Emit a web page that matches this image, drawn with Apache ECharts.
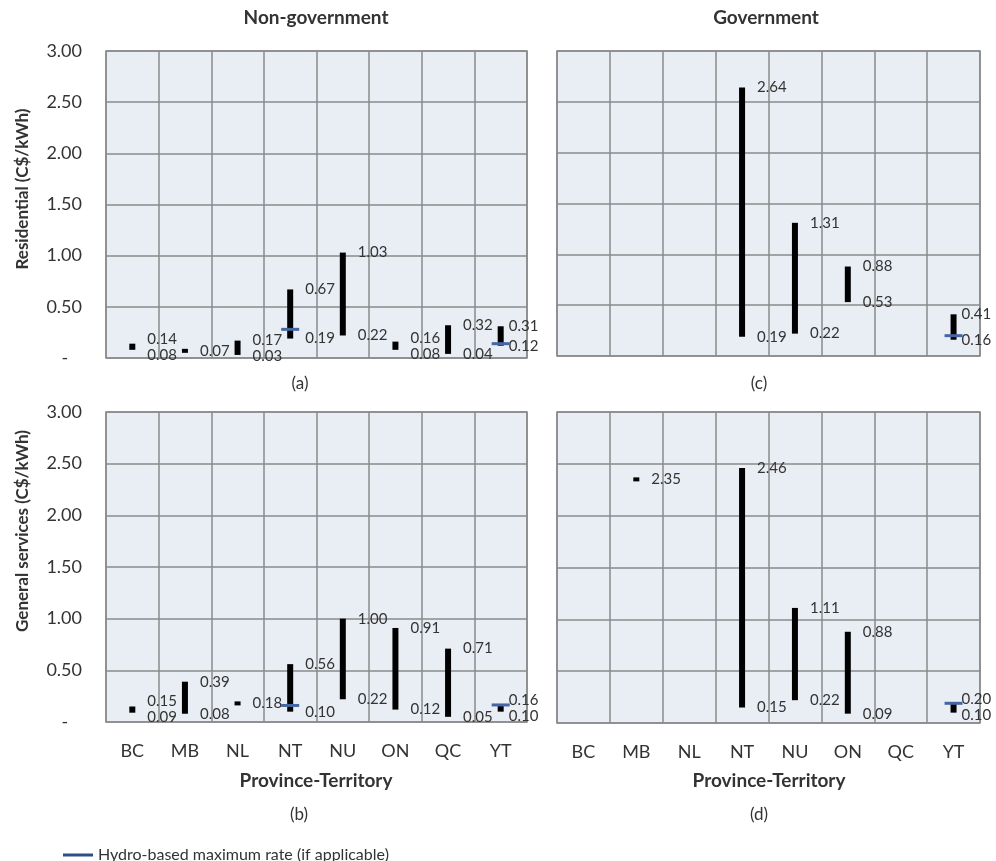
<!DOCTYPE html>
<html><head><meta charset="utf-8">
<script src="https://cdn.jsdelivr.net/npm/echarts@6/dist/echarts.min.js"></script>
<style>html,body{margin:0;padding:0;background:#fff}#c{width:996px;height:861px}</style>
</head><body><div id="c"></div>
<script>
const categories = ['BC','MB','NL','NT','NU','ON','QC','YT'];
const yTicks = [0, 0.5, 1, 1.5, 2, 2.5, 3];
// (a) Non-government, Residential
const aMin   = [0.08, 0.07, 0.03, 0.19, 0.22, 0.08, 0.04, 0.12];
const aMax   = [0.14, 0.07, 0.17, 0.67, 1.03, 0.16, 0.32, 0.31];
const aHydro = [null, null, null, 0.28, null, null, null, 0.14];
// (b) Non-government, General services
const bMin   = [0.09, 0.08, 0.18, 0.10, 0.22, 0.12, 0.05, 0.10];
const bMax   = [0.15, 0.39, 0.18, 0.56, 1.00, 0.91, 0.71, 0.16];
const bHydro = [null, null, null, 0.16, null, null, null, 0.165];
// (c) Government, Residential
const cMin   = [null, null, null, 0.19, 0.22, 0.53, null, 0.16];
const cMax   = [null, null, null, 2.64, 1.31, 0.88, null, 0.41];
const cHydro = [null, null, null, null, null, null, null, 0.20];
// (d) Government, General services
const dMin   = [null, 2.35, null, 0.15, 0.22, 0.09, null, 0.10];
const dMax   = [null, 2.35, null, 2.46, 1.11, 0.88, null, 0.20];
const dHydro = [null, null, null, null, null, null, null, 0.19];

const hydroName = 'Hydro-based maximum rate (if applicable)';
const FONT = 'Lato, "Open Sans", sans-serif';
const TXT = '#333';
const GRIDC = '#8a8a8a';

const grids = [
  {left:106, top:51,  width:421, height:307},
  {left:106, top:412, width:421, height:310},
  {left:557, top:51,  width:423, height:305},
  {left:557, top:412, width:423, height:311}
];
const panels = [
  {min:aMin, max:aMax, hydro:aHydro, xLab:false, yLab:true},
  {min:bMin, max:bMax, hydro:bHydro, xLab:true,  yLab:true},
  {min:cMin, max:cMax, hydro:cHydro, xLab:false, yLab:false},
  {min:dMin, max:dMax, hydro:dHydro, xLab:true,  yLab:false}
];

function rangeRender(params, api) {
  const i = api.value(0), lo = api.value(1), hi = api.value(2);
  const pLo = api.coord([i, lo]), pHi = api.coord([i, hi]);
  const x = pLo[0], w = 6;
  let top = pHi[1], bot = pLo[1];
  if (bot - top < 4) { const m = (top + bot) / 2; top = m - 2; bot = m + 2; }
  const dx = i === categories.length - 1 ? 8 : 15;
  const children = [{type:'rect', shape:{x:x - w/2, y:top, width:w, height:bot - top}, style:{fill:'#000'}}];
  const tStyle = (t, y) => ({type:'text', x:x + dx, y:y, style:{text:t, font:'15px ' + FONT, fill:TXT, align:'left', verticalAlign:'middle'}});
  if (lo === hi) {
    children.push(tStyle(hi.toFixed(2), pHi[1]));
  } else {
    let yHi = pHi[1], yLo = pLo[1];
    if (yLo - yHi < 16) { const m = (yHi + yLo) / 2; yHi = m - 8; yLo = m + 8; }
    children.push(tStyle(hi.toFixed(2), yHi));
    children.push(tStyle(lo.toFixed(2), yLo));
  }
  return {type:'group', children};
}
function hydroRender(params, api) {
  const p = api.coord([api.value(0), api.value(1)]);
  return {type:'line', shape:{x1:p[0] - 9, y1:p[1], x2:p[0] + 9, y2:p[1]}, style:{stroke:'#4467a3', lineWidth:3}};
}

const xAxis = [], yAxis = [], series = [];
panels.forEach((p, k) => {
  xAxis.push({type:'category', gridIndex:k, data:categories, boundaryGap:true,
    axisLine:{show:false}, axisTick:{show:false},
    splitLine:{show:true, interval:0, lineStyle:{color:GRIDC, width:1.5}},
    axisLabel:{show:p.xLab, interval:0, fontSize:18, fontFamily:FONT, color:TXT, margin:20}});
  yAxis.push({type:'value', gridIndex:k, min:yTicks[0], max:yTicks[yTicks.length-1], interval:0.5,
    axisLine:{show:false}, axisTick:{show:false},
    splitLine:{show:true, lineStyle:{color:GRIDC, width:1.5}},
    axisLabel:{show:p.yLab, fontSize:18, fontFamily:FONT, color:TXT, margin:24,
      formatter: v => v === 0 ? '-   ' : v.toFixed(2)}});
  const rd = [];
  p.min.forEach((v, i) => { if (v != null) rd.push([i, v, p.max[i]]); });
  series.push({type:'custom', name:'range' + k, xAxisIndex:k, yAxisIndex:k, renderItem:rangeRender,
    encode:{x:0, y:[1, 2]}, data:rd, z:3, silent:true});
  const hd = [];
  p.hydro.forEach((v, i) => { if (v != null) hd.push([i, v]); });
  series.push({type:'custom', name:hydroName, xAxisIndex:k, yAxisIndex:k, renderItem:hydroRender,
    encode:{x:0, y:1}, data:hd, z:4, itemStyle:{color:'#2d4f88'}, silent:true});
});

const gText = (t, x, y, opts) => Object.assign({type:'text', x, y,
  style:Object.assign({text:t, font:'17px ' + FONT, fill:TXT, align:'center', verticalAlign:'middle'}, (opts||{}).style||{})},
  opts && opts.rotation != null ? {rotation:opts.rotation} : {});

const chart = echarts.init(document.getElementById('c'), null, {renderer:'canvas'});
chart.setOption({
  backgroundColor:'#ffffff',
  animation:false,
  grid: grids.map(g => Object.assign({show:true, backgroundColor:'#e9edf4', borderColor:GRIDC, borderWidth:1.5}, g)),
  xAxis, yAxis, series,
  legend:{data:[{name:hydroName, icon:'rect'}], left:58, top:842, itemWidth:30, itemHeight:3, itemGap:8,
    textStyle:{fontSize:16, fontFamily:FONT, color:TXT}, selectedMode:false},
  graphic:[
    gText('Non-government', 316, 18, {style:{font:'bold 19px ' + FONT}}),
    gText('Government', 766, 18, {style:{font:'bold 19px ' + FONT}}),
    gText('Province-Territory', 316, 781, {style:{font:'bold 19px ' + FONT}}),
    gText('Province-Territory', 769, 781, {style:{font:'bold 19px ' + FONT}}),
    gText('Residential (C$/kWh)', 23, 189, {rotation:Math.PI/2, style:{font:'bold 17px ' + FONT}}),
    gText('General services (C$/kWh)', 23, 531, {rotation:Math.PI/2, style:{font:'bold 17px ' + FONT}}),
    gText('(a)', 300, 384), gText('(c)', 759, 384),
    gText('(b)', 299, 815), gText('(d)', 759, 815)
  ]
});
</script></body></html>
